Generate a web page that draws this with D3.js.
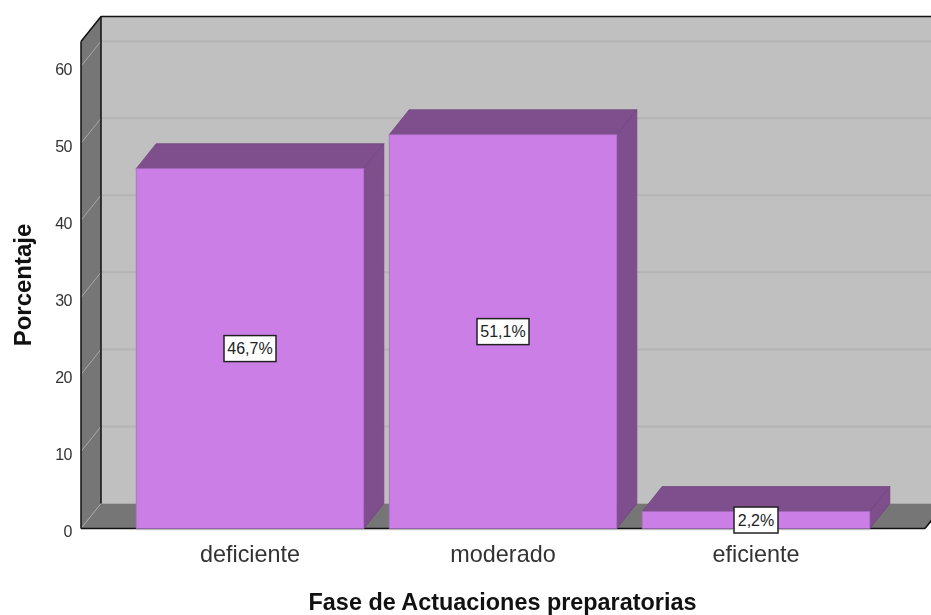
<!DOCTYPE html>
<html>
<head>
<meta charset="utf-8">
<script src="https://d3js.org/d3.v7.min.js"></script>
<style>
  html, body { margin: 0; padding: 0; background: #fff; }
  svg { display: block; filter: blur(0.45px); }
  text { font-family: "Liberation Sans", Arial, sans-serif; }
</style>
</head>
<body>
<svg id="chart" width="931" height="615"></svg>
<script>
// values
const categories = ["deficiente", "moderado", "eficiente"];
const percentages = [46.7, 51.1, 2.2];
const barLabels = ["46,7%", "51,1%", "2,2%"];
const yTicks = [0, 10, 20, 30, 40, 50, 60];
const yTitle = "Porcentaje";
const xTitle = "Fase de Actuaciones preparatorias";

const depthX = 20, depthY = -25;   // 3d offset of the back wall
const yMax = 63.2;

const svg = d3.select("#chart");

const y = d3.scaleLinear().domain([0, yMax]).range([528.5, 41.5]);
const x = d3.scaleBand().domain(categories).range([123.5, 882.5])
    .paddingInner(0.1).paddingOuter(0.05);

const left = 81, right = 925;
const poly = pts => pts.map(p => p.join(",")).join(" ");

// back wall
svg.append("polygon")
    .attr("points", poly([[left + depthX, y(yMax) + depthY], [940, y(yMax) + depthY], [940, y(0) + depthY], [left + depthX, y(0) + depthY]]))
    .attr("fill", "#c0c0c0");

// left wall
svg.append("polygon")
    .attr("points", poly([[left, y(yMax)], [left + depthX, y(yMax) + depthY], [left + depthX, y(0) + depthY], [left, y(0)]]))
    .attr("fill", "#767676");

// floor
svg.append("polygon")
    .attr("points", poly([[left, y(0)], [left + depthX, y(0) + depthY], [right + depthX, y(0) + depthY], [right, y(0)]]))
    .attr("fill", "#767676");

// gridlines, back wall and left wall
svg.append("g").selectAll("line.back").data(yTicks.slice(1)).join("line")
    .attr("x1", left + depthX).attr("x2", 931)
    .attr("y1", d => y(d) + depthY).attr("y2", d => y(d) + depthY)
    .attr("stroke", "#b4b4b4").attr("stroke-width", 2);
svg.append("g").selectAll("line.side").data(yTicks).join("line")
    .attr("x1", left).attr("x2", left + depthX)
    .attr("y1", d => y(d)).attr("y2", d => y(d) + depthY)
    .attr("stroke", "#a8a8a8").attr("stroke-width", 1);

// frame lines
const frame = [
  [[left, y(0)], [left, y(yMax)]],
  [[left, y(yMax)], [left + depthX, y(yMax) + depthY]],
  [[left + depthX, y(yMax) + depthY], [931, y(yMax) + depthY]],
  [[left + depthX, y(yMax) + depthY], [left + depthX, y(0) + depthY]],
  [[left, y(0)], [right, y(0)]],
  [[right, y(0)], [right + depthX, y(0) + depthY]]
];
svg.append("g").selectAll("line").data(frame).join("line")
    .attr("x1", d => d[0][0]).attr("y1", d => d[0][1])
    .attr("x2", d => d[1][0]).attr("y2", d => d[1][1])
    .attr("stroke", "#111").attr("stroke-width", 1.5);

// bars
const bars = svg.append("g").selectAll("g").data(categories).join("g");
const bx = d => x(d), bw = x.bandwidth();
const val = (d, i) => percentages[i];

bars.append("polygon")
    .attr("points", (d, i) => poly([[bx(d), y(val(d, i))], [bx(d) + depthX, y(val(d, i)) + depthY], [bx(d) + bw + depthX, y(val(d, i)) + depthY], [bx(d) + bw, y(val(d, i))]]))
    .attr("fill", "#7e4f8c").attr("stroke", "#6e4379").attr("stroke-width", 0.7);
bars.append("polygon")
    .attr("points", (d, i) => poly([[bx(d) + bw, y(val(d, i))], [bx(d) + bw + depthX, y(val(d, i)) + depthY], [bx(d) + bw + depthX, y(0) + depthY], [bx(d) + bw, y(0)]]))
    .attr("fill", "#7e4f8c").attr("stroke", "#6e4379").attr("stroke-width", 0.7);
bars.append("rect")
    .attr("x", d => bx(d)).attr("width", bw)
    .attr("y", (d, i) => y(val(d, i)))
    .attr("height", (d, i) => y(0) - y(val(d, i)))
    .attr("fill", "#cb7fe6").attr("stroke", "#a66bc0").attr("stroke-width", 0.7);

// line under the front edge
svg.append("line").attr("x1", x(categories[0])).attr("x2", x(categories[2]) + bw)
    .attr("y1", y(0) + 1.2).attr("y2", y(0) + 1.2).attr("stroke", "#b8b8b8").attr("stroke-width", 1);

// value labels
const lab = svg.append("g").selectAll("g").data(categories).join("g")
    .attr("transform", (d, i) => `translate(${bx(d) + bw / 2},${(y(0) + y(val(d, i))) / 2})`);
lab.append("rect")
    .attr("x", (d, i) => i === 2 ? -22 : -26).attr("width", (d, i) => i === 2 ? 44 : 52)
    .attr("y", -13).attr("height", 26)
    .attr("fill", "#fff").attr("stroke", "#222").attr("stroke-width", 1.5);
lab.append("text")
    .attr("text-anchor", "middle").attr("dy", "0.36em")
    .attr("font-size", 16).attr("fill", "#222")
    .text((d, i) => barLabels[i]);

// y tick labels
svg.append("g").selectAll("text").data(yTicks).join("text")
    .attr("x", 72).attr("y", d => y(d) + 3).attr("dy", "0.36em")
    .attr("text-anchor", "end").attr("font-size", 16).attr("letter-spacing", -0.5).attr("fill", "#333")
    .text(d => d);

// category labels
svg.append("g").selectAll("text").data(categories).join("text")
    .attr("x", d => bx(d) + bw / 2).attr("y", 562)
    .attr("text-anchor", "middle").attr("font-size", 23.4).attr("fill", "#333")
    .text(d => d);

// axis titles
svg.append("text").attr("x", 502.5).attr("y", 610)
    .attr("text-anchor", "middle").attr("font-size", 23.4).attr("font-weight", "bold").attr("fill", "#111")
    .text(xTitle);
svg.append("text").attr("transform", "translate(31,285) rotate(-90)")
    .attr("text-anchor", "middle").attr("font-size", 24).attr("font-weight", "bold").attr("fill", "#111")
    .text(yTitle);
</script>
</body>
</html>
